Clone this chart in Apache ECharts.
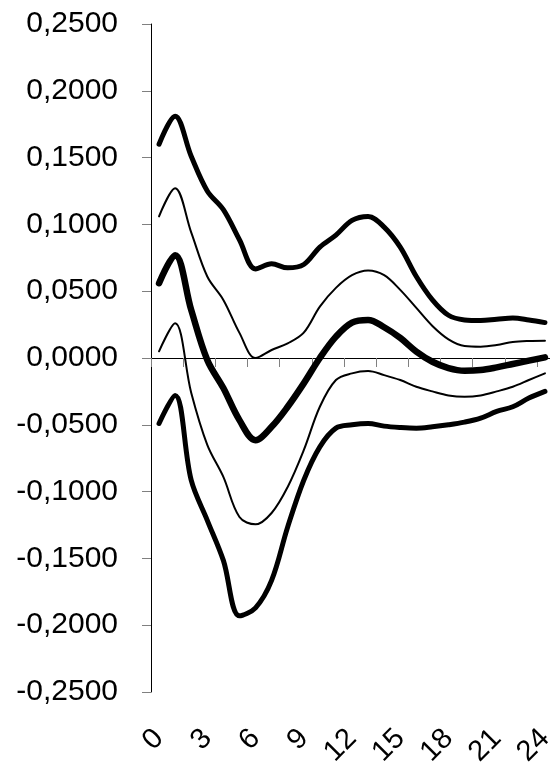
<!DOCTYPE html>
<html>
<head>
<meta charset="utf-8">
<title>Impulse response</title>
<script src="https://cdn.jsdelivr.net/npm/echarts@6/dist/echarts.min.js"></script>
<style>
  html, body { margin: 0; padding: 0; background: #fff; }
  #chart { width: 550px; height: 765px; }
</style>
</head>
<body>
<div id="chart"></div>
<script>
// periods 0..24
const periods = Array.from(Array(25).keys()).map(String)

// upper band (outer, thick)
const upperOuter = [0.160, 0.181, 0.151, 0.125, 0.111, 0.0885, 0.0667, 0.0705, 0.0675, 0.070, 0.083, 0.092,
  0.103, 0.106, 0.098, 0.083, 0.061, 0.0435, 0.032, 0.0285, 0.028, 0.029, 0.030, 0.0285, 0.0265]

// upper band (inner, thin)
const upperInner = [0.106, 0.127, 0.094, 0.061, 0.0435, 0.0188, 0.0, 0.006, 0.011, 0.019, 0.0385, 0.0525,
  0.062, 0.0655, 0.062, 0.051, 0.0375, 0.024, 0.014, 0.009, 0.0085, 0.0097, 0.012, 0.0128, 0.013]

// point estimate (thickest)
const estimate = [0.056, 0.077, 0.036, -0.0015, -0.0225, -0.0465, -0.0615, -0.0515, -0.0365, -0.019, 0.0, 0.016,
  0.0265, 0.0285, 0.023, 0.015, 0.0048, -0.0028, -0.0075, -0.0095, -0.009, -0.007, -0.0045, -0.002, 0.0005]

// lower band (inner, thin)
const lowerInner = [0.005, 0.026, -0.026, -0.065, -0.089, -0.119, -0.1245, -0.116, -0.0965, -0.069, -0.0365, -0.0165,
  -0.0115, -0.0098, -0.0128, -0.0165, -0.0215, -0.025, -0.028, -0.029, -0.028, -0.025, -0.0215, -0.0165, -0.0115]

// lower band (outer, thick)
const lowerOuter = [-0.049, -0.028, -0.0915, -0.1215, -0.1515, -0.193, -0.187, -0.1665, -0.1265, -0.0915, -0.0665, -0.0525,
  -0.050, -0.049, -0.051, -0.052, -0.0525, -0.0515, -0.050, -0.048, -0.045, -0.040, -0.0365, -0.030, -0.025]

const xLabelsShown = ['0', '3', '6', '9', '12', '15', '18', '21', '24']

const chart = echarts.init(document.getElementById('chart'))

function lineSeries(data, width) {
  return {
    type: 'line',
    data: data,
    smooth: 0.35,
    symbol: 'none',
    xAxisIndex: 0,
    lineStyle: { color: '#000', width: width, cap: 'round', join: 'round' },
    z: 3
  }
}

const font = 'Liberation Sans, Arial, sans-serif'

const option = {
  animation: false,
  backgroundColor: '#fff',
  grid: { left: 151, right: -3, top: 24, bottom: 73, containLabel: false, outerBoundsMode: 'none' },
  xAxis: [
    {
      // axis line sitting on y = 0
      type: 'category',
      data: periods,
      position: 'bottom',
      boundaryGap: true,
      axisLine: { onZero: true, lineStyle: { color: '#000', width: 1 } },
      axisTick: { show: true, length: 9, lineStyle: { color: '#808080' } },
      axisLabel: { show: false },
      splitLine: { show: false }
    },
    {
      // labels at the bottom of the plot
      type: 'category',
      data: periods,
      position: 'bottom',
      boundaryGap: true,
      axisLine: { show: false, onZero: false },
      axisTick: { show: false },
      splitLine: { show: false },
      axisLabel: {
        interval: 0,
        rotate: 45,
        margin: 42,
        color: '#000',
        fontFamily: font,
        fontSize: 29,
        formatter: v => (xLabelsShown.indexOf(v) >= 0 ? v : '')
      }
    }
  ],
  yAxis: {
    type: 'value',
    min: -0.25,
    max: 0.25,
    interval: 0.05,
    axisLine: { show: true, lineStyle: { color: '#000', width: 1 } },
    axisTick: { show: true, length: 9, lineStyle: { color: '#808080' } },
    splitLine: { show: false },
    axisLabel: {
      margin: 33,
      color: '#000',
      fontFamily: font,
      fontSize: 30,
      formatter: v => v.toFixed(4).replace('.', ',')
    }
  },
  series: [
    lineSeries(upperOuter, 5),
    lineSeries(upperInner, 2),
    lineSeries(estimate, 6.5),
    lineSeries(lowerInner, 2),
    lineSeries(lowerOuter, 5)
  ]
}

chart.setOption(option)
</script>
</body>
</html>
